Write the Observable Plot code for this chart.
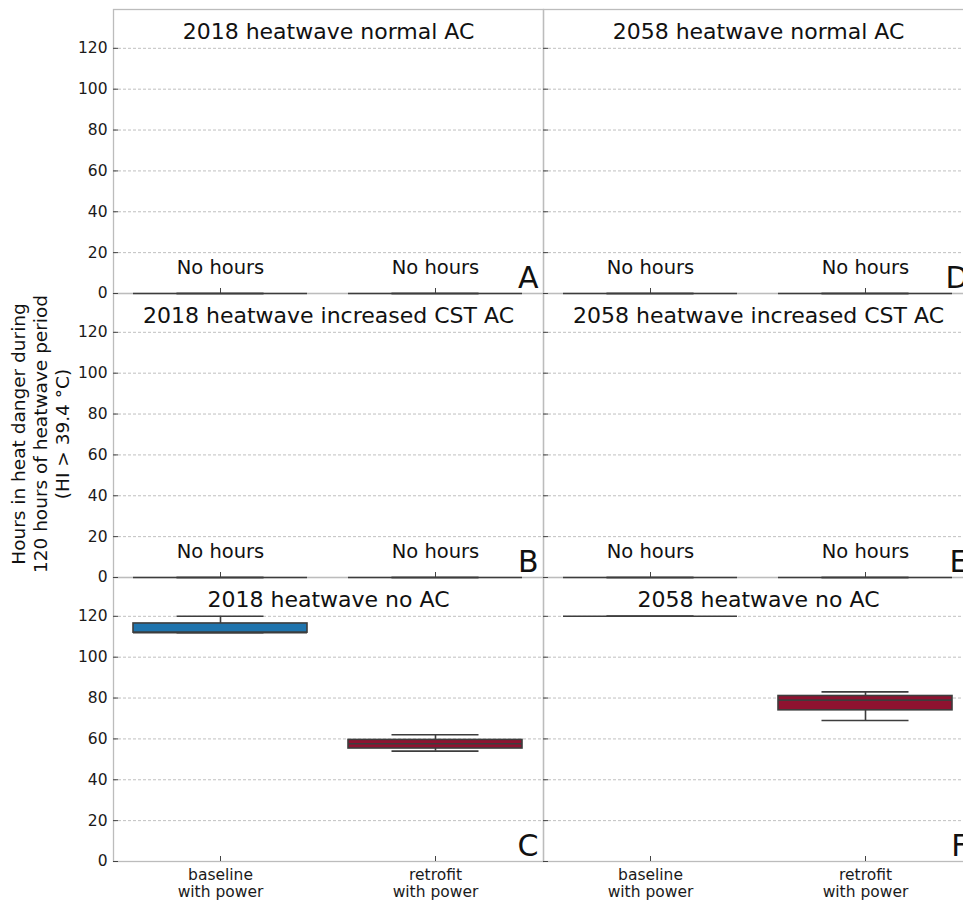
<!DOCTYPE html>
<html>
<head>
<meta charset="utf-8">
<script src="https://cdn.jsdelivr.net/npm/d3@7"></script>
<script src="https://cdn.jsdelivr.net/npm/@observablehq/plot@0.6"></script>
<style>
  html, body { margin: 0; padding: 0; overflow: hidden; background: #fff; }
  #chart { width: 973px; }
</style>
</head>
<body>
<div id="chart"></div>
<script>
// Facets: columns are heatwave years, rows are AC scenarios
var years = ["2018", "2058"];
var scenarios = ["normal AC", "increased CST AC", "no AC"];
var categories = ["baseline\nwith power", "retrofit\nwith power"];
var categoryColors = ["#1f74ad", "#8e1230"];
var panelLetters = ["A", "B", "C", "D", "E", "F"];
var yTicks = [0, 20, 40, 60, 80, 100, 120];

// Box statistics per panel (A..F), each [baseline, retrofit]
var whiskerLow   = [[0, 0], [0, 0], [112, 54],   [0, 0], [0, 0], [120, 69]];
var quartileLow  = [[0, 0], [0, 0], [112, 55.3], [0, 0], [0, 0], [120, 74]];
var medians      = [[0, 0], [0, 0], [112, 57.6], [0, 0], [0, 0], [120, 79]];
var quartileHigh = [[0, 0], [0, 0], [116.5, 59.5], [0, 0], [0, 0], [120, 81]];
var whiskerHigh  = [[0, 0], [0, 0], [120, 62],   [0, 0], [0, 0], [120, 83]];

var panels = [];
var rows = [];
for (var i = 0; i < panelLetters.length; i++) {
  var year = years[Math.floor(i / 3)];
  var scenario = scenarios[i % 3];
  panels.push({year: year, scenario: scenario, letter: panelLetters[i],
               title: year + " heatwave " + scenario});
  for (var j = 0; j < categories.length; j++) {
    rows.push({
      year: year, scenario: scenario, category: categories[j], color: categoryColors[j],
      lo: whiskerLow[i][j], q1: quartileLow[i][j], med: medians[i][j],
      q3: quartileHigh[i][j], hi: whiskerHigh[i][j],
      empty: whiskerHigh[i][j] === 0
    });
  }
}

var edge = "#3d3d3d";
var capInset = 43.5;
var facet = {fx: "year", fy: "scenario"};

var plot = Plot.plot({
  width: 973,
  height: 900,
  marginTop: 8,
  marginBottom: 39,
  marginLeft: 112,
  marginRight: 0,
  style: {fontFamily: "DejaVu Sans", fontSize: "15px", color: "#1a1a1a", background: "#fff"},
  fx: {domain: years, padding: 0, axis: null},
  fy: {domain: scenarios, padding: 0, axis: null},
  x: {domain: categories, paddingInner: 0.19, paddingOuter: 0.095},
  y: {domain: [0, 139]},
  marks: [
    Plot.gridY(yTicks.filter(function(d) { return d > 0; }), {
      stroke: "#b0b0b0", strokeOpacity: 1, strokeWidth: 0.8, strokeDasharray: "3,2"
    }),
    Plot.frame({stroke: "#bcbcbc", strokeWidth: 1.3}),
    // inward ticks on every panel
    Plot.axisY(yTicks, {facetAnchor: null, tickSize: -5, tickFormat: function() { return ""; },
                        stroke: "#444", label: null}),
    Plot.axisX({facetAnchor: null, tickSize: -5, tickFormat: function() { return ""; },
                stroke: "#444", label: null}),
    // tick labels on outer panels
    Plot.axisY(yTicks, {tickSize: 0, tickPadding: 6, fontSize: 15.5, label: null}),
    Plot.axisX({tickSize: 0, tickPadding: 6.5, fontSize: 15.5, lineHeight: 1.1, label: null}),
    // whiskers
    Plot.ruleX(rows, Object.assign({x: "category", y1: "lo", y2: "q1", stroke: edge, strokeWidth: 1.6}, facet)),
    Plot.ruleX(rows, Object.assign({x: "category", y1: "q3", y2: "hi", stroke: edge, strokeWidth: 1.6}, facet)),
    Plot.tickY(rows, Object.assign({x: "category", y: "lo", stroke: edge, strokeWidth: 1.6,
                                    insetLeft: capInset, insetRight: capInset}, facet)),
    Plot.tickY(rows, Object.assign({x: "category", y: "hi", stroke: edge, strokeWidth: 1.6,
                                    insetLeft: capInset, insetRight: capInset}, facet)),
    // boxes
    Plot.barY(rows, Object.assign({x: "category", y1: "q1", y2: "q3", fill: "color",
                                   stroke: edge, strokeWidth: 1.6}, facet)),
    Plot.tickY(rows, Object.assign({x: "category", y: "med", stroke: edge, strokeWidth: 1.6}, facet)),
    // labels
    Plot.text(rows.filter(function(d) { return d.empty; }), Object.assign({
      x: "category", y: 12.5, text: function() { return "No hours"; },
      lineAnchor: "middle", fontSize: 19.5, fill: "#111"
    }, facet)),
    Plot.text(panels, Object.assign({
      text: "title", frameAnchor: "top", lineAnchor: "middle", dy: 22, fontSize: 22, fill: "#111"
    }, facet)),
    Plot.text(panels, Object.assign({
      text: "letter", frameAnchor: "bottom-right", dx: -5, dy: -6, fontSize: 30, fill: "#111"
    }, facet))
  ]
});

document.getElementById("chart").appendChild(plot);

// shared y-axis title, three lines, rotated
var yLabel = d3.select(plot).append("text")
  .attr("transform", "translate(0,434) rotate(-90)")
  .attr("text-anchor", "middle")
  .attr("font-family", "DejaVu Sans")
  .attr("font-size", 18.5)
  .attr("fill", "#111");
["Hours in heat danger during", "120 hours of heatwave period", "(HI > 39.4 \u00b0C)"].forEach(function(line, k) {
  yLabel.append("tspan").attr("x", 0).attr("y", 24.5 + 22 * k).text(line);
});
</script>
</body>
</html>
